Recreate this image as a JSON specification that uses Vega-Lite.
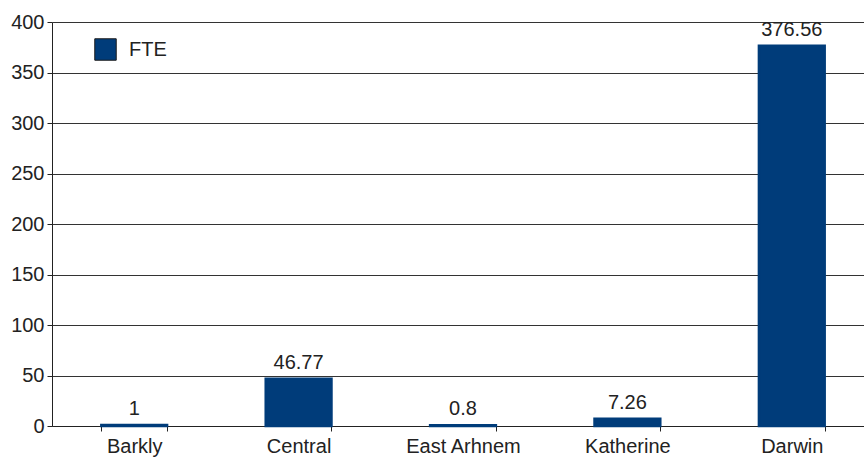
{
  "$schema": "https://vega.github.io/schema/vega-lite/v6.json",
  "width": 822,
  "height": 404,
  "autosize": {"type": "none"},
  "padding": {"left": 52, "top": 22, "right": 0, "bottom": 35},
  "background": "white",
  "config": {
    "view": {"stroke": null},
    "font": "Liberation Sans",
    "axis": {"labelFont": "Liberation Sans", "labelFontSize": 20, "labelColor": "#222222", "titleFontSize": 0}
  },
  "data": {
    "values": [
      {"region": "Barkly", "FTE": 1, "label": "1", "series": "FTE"},
      {"region": "Central", "FTE": 46.77, "label": "46.77", "series": "FTE"},
      {"region": "East Arhnem", "FTE": 0.8, "label": "0.8", "series": "FTE"},
      {"region": "Katherine", "FTE": 7.26, "label": "7.26", "series": "FTE"},
      {"region": "Darwin", "FTE": 376.56, "label": "376.56", "series": "FTE"}
    ]
  },
  "encoding": {
    "x": {
      "field": "region", "type": "nominal", "sort": null, "title": null,
      "scale": {"paddingInner": 0.6, "paddingOuter": 0.3},
      "axis": {"labelAngle": 0, "tickBand": "extent", "tickSize": 5, "tickColor": "#222222", "domainColor": "#222222", "labelPadding": 5, "grid": false}
    }
  },
  "layer": [
    {
      "mark": {"type": "bar", "color": "#003c7a", "stroke": "#003c7a", "strokeWidth": 2.5},
      "encoding": {
        "y": {
          "field": "FTE", "type": "quantitative", "title": null,
          "scale": {"domain": [0, 400], "nice": false},
          "axis": {"values": [0, 50, 100, 150, 200, 250, 300, 350, 400], "grid": true, "gridColor": "#333333", "gridWidth": 1, "gridOpacity": 1, "tickSize": 5, "tickColor": "#222222", "domainColor": "#222222", "labelPadding": 3}
        },
        "color": {
          "field": "series", "type": "nominal", "title": null,
          "scale": {"range": ["#003c7a"]},
          "legend": {"orient": "none", "legendX": 42, "legendY": 16, "symbolType": "square", "symbolSize": 460, "symbolStrokeColor": "#1a1a1a", "symbolStrokeWidth": 1, "labelFontSize": 20, "labelColor": "#222222", "labelFont": "Liberation Sans", "labelOffset": 12, "fillColor": "white"}
        }
      }
    },
    {
      "mark": {"type": "text", "baseline": "alphabetic", "dy": -10, "fontSize": 20, "color": "#222222", "font": "Liberation Sans"},
      "encoding": {
        "y": {"field": "FTE", "type": "quantitative"},
        "text": {"field": "label"}
      }
    }
  ]
}
